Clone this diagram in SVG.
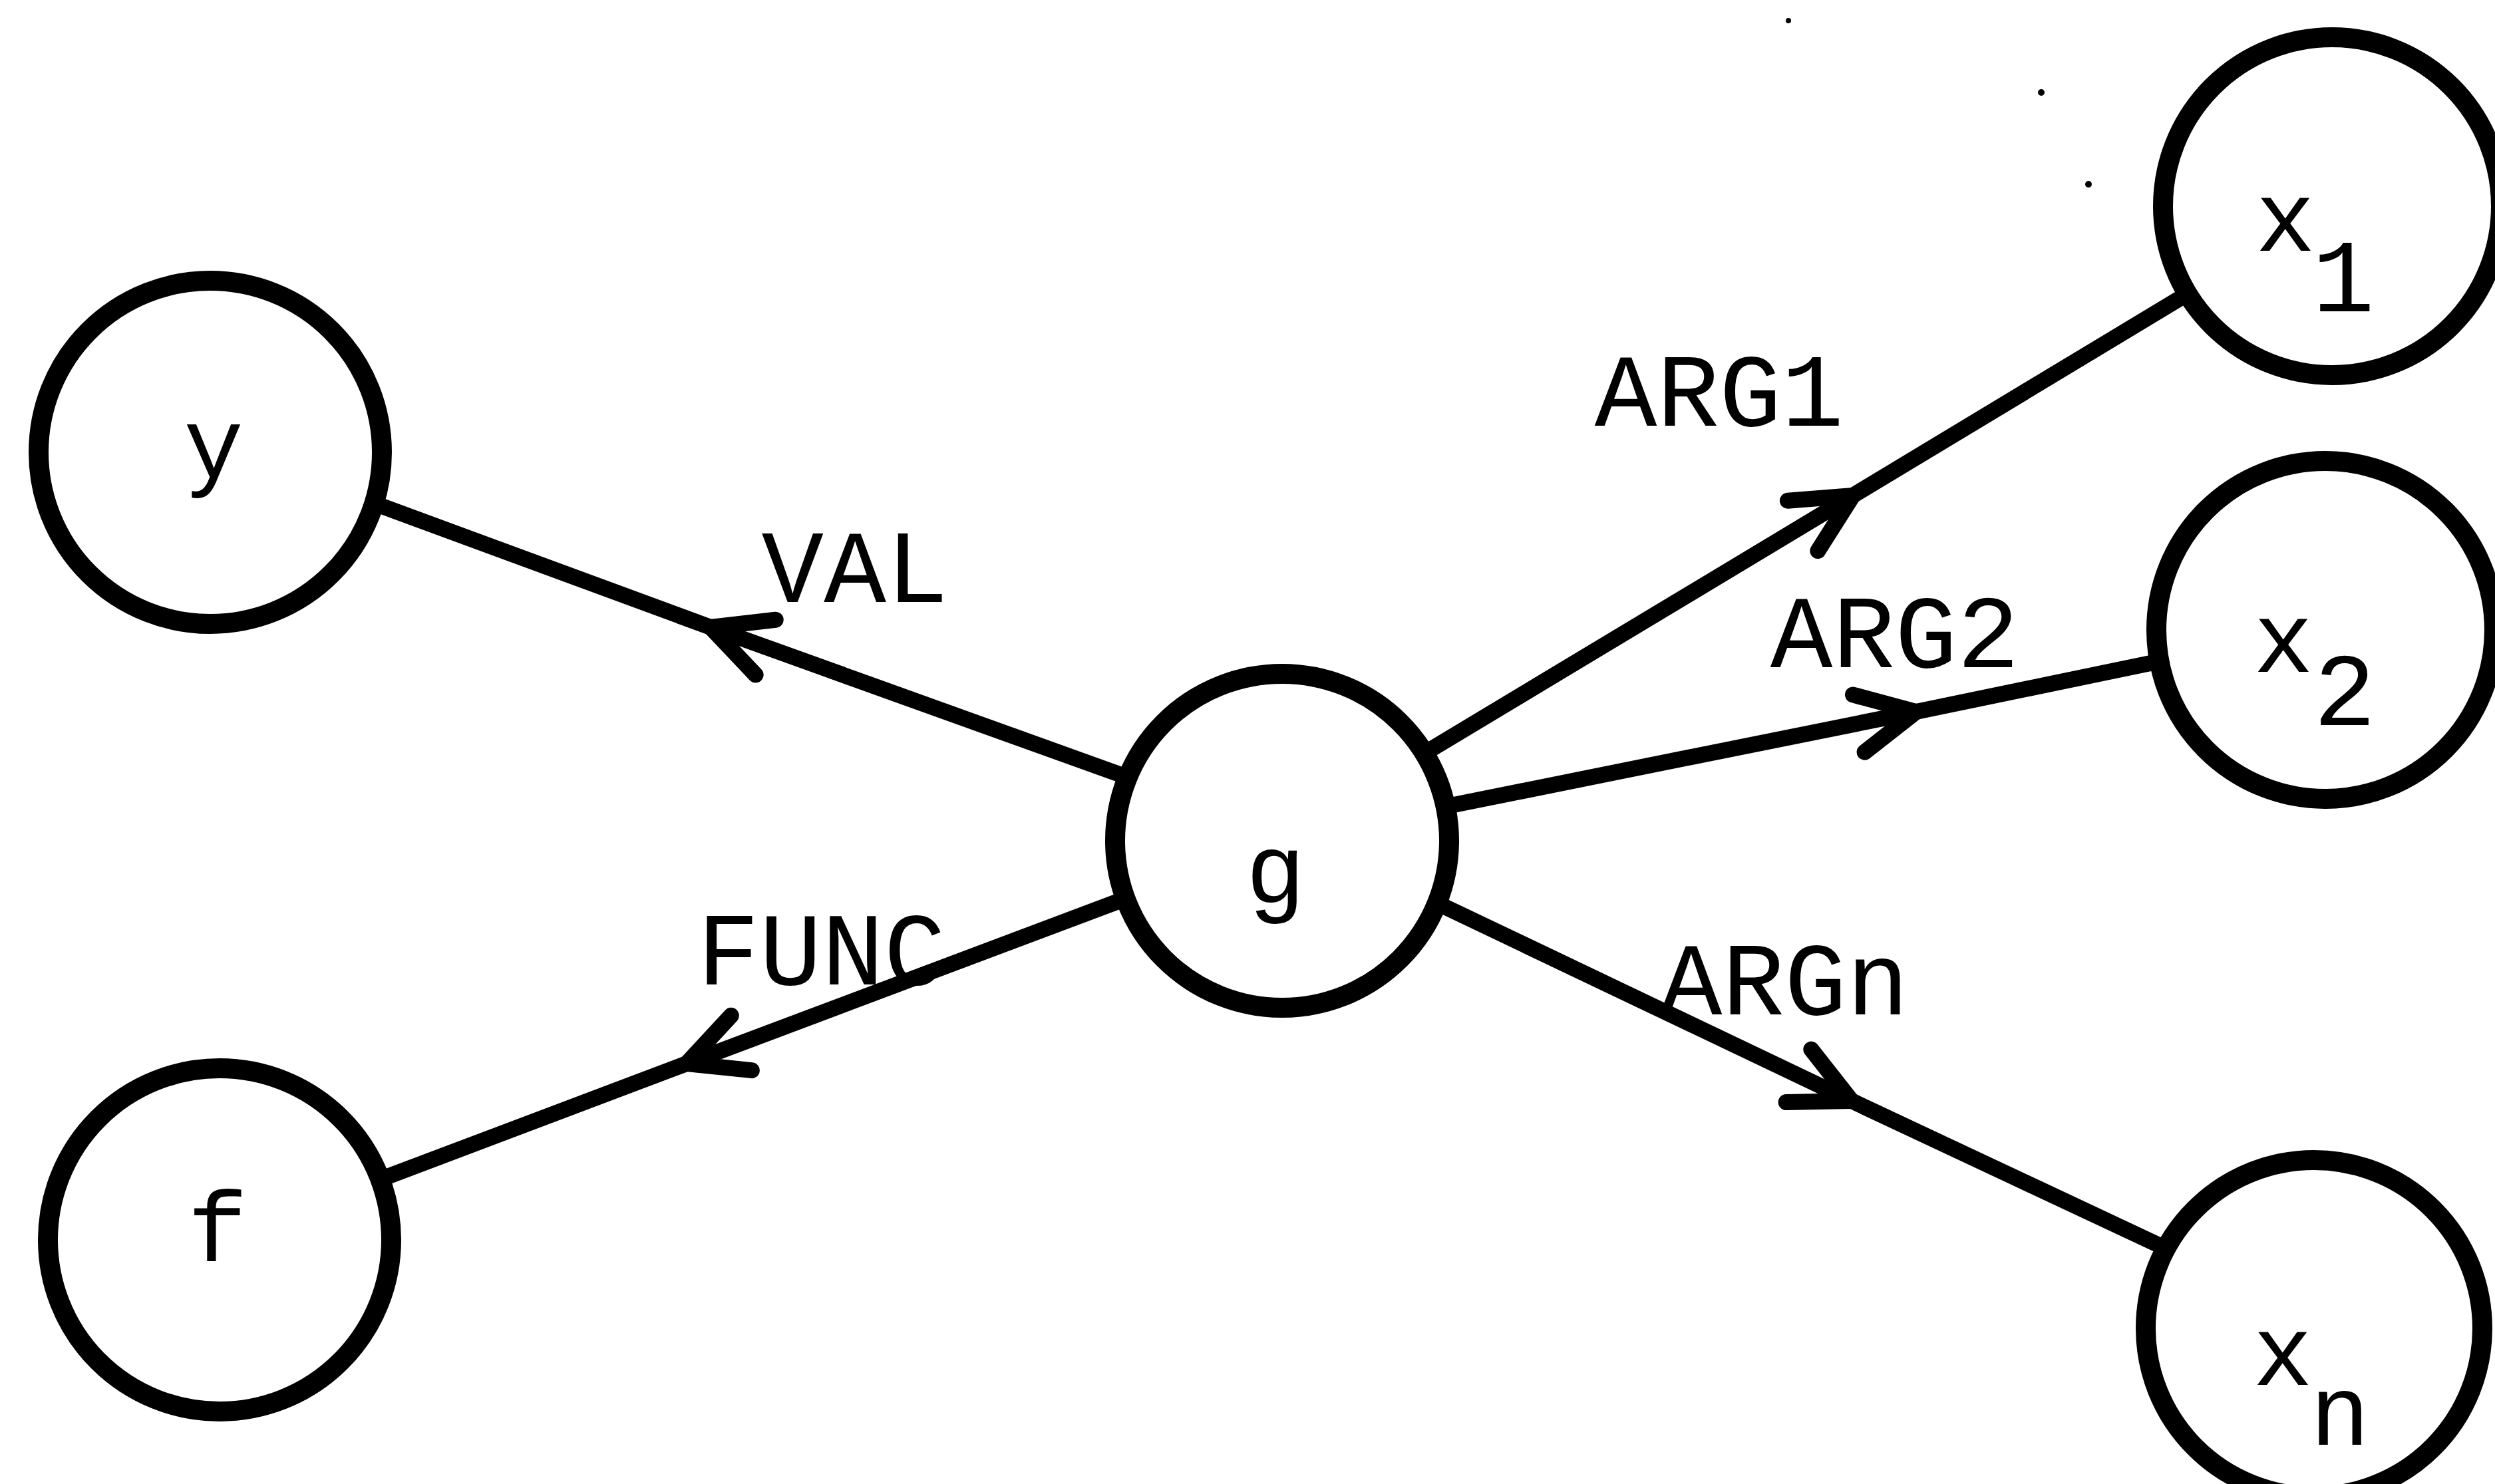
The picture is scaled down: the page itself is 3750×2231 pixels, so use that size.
<svg xmlns="http://www.w3.org/2000/svg" width="3750" height="2231" viewBox="0 0 3750 2231">
<style>
.node{fill:none;stroke:#000;stroke-width:30}
.edge{fill:none;stroke:#000;stroke-width:24;stroke-linecap:round;marker-mid:url(#arr)}
.lbl{font-family:"Liberation Mono","DejaVu Sans Mono",monospace;font-size:156px;fill:#000;text-anchor:middle}
.nl{font-family:"Liberation Mono","DejaVu Sans Mono",monospace;font-size:150px;fill:#000;text-anchor:middle}
.sub{font-family:"Liberation Mono","DejaVu Sans Mono",monospace;font-size:156px;fill:#000;text-anchor:middle}
</style>
<defs>
<marker id="arr" markerUnits="userSpaceOnUse" orient="auto" refX="0" refY="0" markerWidth="200" markerHeight="200" overflow="visible">
<path d="M -88 -44 L 0 0 L -88 44" fill="none" stroke="#000" stroke-width="24" stroke-linecap="round" stroke-linejoin="round"/>
</marker>
</defs>
<rect width="3750" height="2231" fill="#fff"/>
<g id="connectors">
<path class="edge" d="M 1688 1166 L 1068 943 L 574 761"/>
<path class="edge" d="M 1689 1352 L 1032 1599 L 582 1769"/>
<path class="edge" d="M 2145 1130 L 2785 745 L 3274 450"/>
<path class="edge" d="M 2185 1210 L 2880 1070 L 3237 996"/>
<path class="edge" d="M 2171 1363 L 2783 1655 L 3245 1872"/>
<text class="lbl" x="1285" y="905">VAL</text>
<text class="lbl" x="1235" y="1480">FUNC</text>
<text class="lbl" x="2584" y="640">ARG1</text>
<text class="lbl" x="2848" y="1003">ARG2</text>
<text class="lbl" x="2682" y="1525">ARGn</text>
</g>
<g id="node-y">
<circle class="node" cx="316" cy="680" r="258"/>
<text class="nl" x="321" y="718">y</text>
</g>
<g id="node-f">
<circle class="node" cx="330" cy="1864" r="258"/>
<text class="nl" x="327" y="1896">f</text>
</g>
<g id="node-g">
<circle class="node" cx="1927" cy="1264" r="251"/>
<text class="nl" x="1917" y="1358">g</text>
</g>
<g id="node-x1">
<circle class="node" cx="3505" cy="310" r="254"/>
<text class="nl" x="3435" y="377">x</text>
<text class="sub" x="3522" y="468">1</text>
</g>
<g id="node-x2">
<circle class="node" cx="3495" cy="947" r="254"/>
<text class="nl" x="3432" y="1010">x</text>
<text class="sub" x="3524" y="1090">2</text>
</g>
<g id="node-xn">
<circle class="node" cx="3478" cy="1997" r="253"/>
<text class="nl" x="3431" y="2082">x</text>
<text class="nl" x="3517" y="2172">n</text>
</g>
<g id="specks" fill="#000">
<circle cx="3068" cy="139" r="5"/>
<circle cx="3139" cy="277" r="5"/>
<circle cx="2688" cy="31" r="4"/>
</g>
</svg>
